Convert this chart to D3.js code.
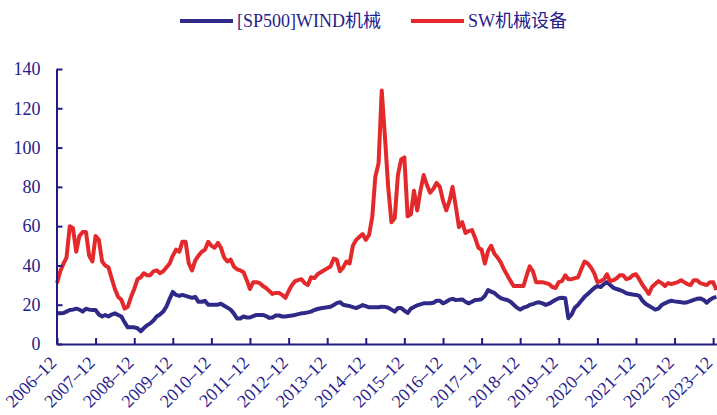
<!DOCTYPE html>
<html>
<head>
<meta charset="utf-8">
<script src="https://cdn.jsdelivr.net/npm/d3@7"></script>
<style>
  body { margin: 0; background: #fff; }
  svg { display: block; }
  text { font-family: "Liberation Serif", "Noto Sans CJK SC", serif; fill: #27208a; }
</style>
</head>
<body>
<svg id="chart" width="717" height="415"></svg>
<script>
// monthly readings, first month is 2006-12
var startMonth = "2006-12";

var seriesNames = ["[SP500]WIND机械", "SW机械设备"];
var seriesColors = ["#2f2a88", "#e3292b"];

var wind = [
  15.6,15.6,15.8,16.5,17.3,17.5,18,17.5,16.5,18,
  17.5,17.3,17.3,15,14,14.8,14,15,15.6,14.8,
  14,11,8.5,8.5,8.5,8,6.5,8,9.5,10.5,
  12,14,15,16.5,19,23,26.5,25,24.5,25,
  24.5,24,23.5,24,21.5,21.5,22,20,20,20,
  20,20.5,19.5,18.5,17.5,15.6,13,13,14,13.5,
  13.5,14.2,14.8,14.8,14.8,14.2,13.3,13.5,14.5,14.5,
  14,14,14.3,14.5,14.8,15.2,15.6,15.8,16.1,16.5,
  17.3,17.8,18.2,18.5,18.7,19,19.9,20.8,21.3,20,
  19.6,19.3,18.8,18.3,19,19.8,19.3,18.7,18.7,18.7,
  18.7,19,18.9,18.5,17.5,16.5,18.3,18.3,17,15.8,
  18,18.8,19.7,20.2,20.7,20.7,20.7,21,22,22,
  20.7,21.5,22.6,23,22.4,22.5,22.7,21.5,20.7,21.5,
  22.4,22.5,22.8,24.5,27.5,26.6,26,24.5,23.3,22.8,
  22.4,21.5,20,18.5,17.5,18.5,19,19.9,20.3,21,
  21.2,20.7,19.9,20.5,21.5,22.5,23.3,23.5,23.3,13.1,
  15,18.5,20,22,24,25.5,27,28.5,29.5,29,
  30.5,31.5,30,28.6,28,27.5,26.8,25.8,25.5,25.2,
  25,24.5,22,20.5,19.5,18.5,17.5,18,19.8,20.7,
  21.5,22,21.7,21.5,21.3,21,21.3,21.8,22.5,23,
  23.2,22.5,21,22.5,23.5,24
];

var sw = [
  31,37,41,44,60,59,47,55,57,57,
  45,42,55,53,42,40,39,33.5,28,24,
  22.5,18,19,24,28,33,34,36,35,35,
  37,37.5,36,37,39,41,45,48,47,52,
  52,41,37.5,42.5,45,47,48,52,50,49,
  51.5,49,44,42,43,39.5,38,37.5,36.5,32.5,
  28,31.5,31.5,31,29.5,28.5,27,25.5,26,26,
  25,23.5,27,30,32,32.5,33,31,30,34,
  33.5,35.5,36.5,37.5,38.5,39.5,43.5,43,37,39,
  42,41,50,53,54.5,56,53,55.5,65,85,
  92,129,105,80,62,64,86,94,95,65,
  66,78,68,78,86,81,77,79,82,80,
  73,68,73,80,70,59.5,62,56.5,57.5,58,
  54,49,48,41,47.5,50,46,44,41.5,38,
  35,32,29.5,29.5,29.5,29.5,35,39.5,37,31.5,
  31.5,31.5,31,30.5,29,28.5,31.5,32,35,33,
  33,33.5,34,38,42,41,39,36,31.5,32,
  33,35.5,32,32.5,33.5,35,35,33,33.5,35,
  35.5,33,30,28,25.5,29,30.5,32,31,29.5,
  31,30.5,31,31.5,32.5,31.5,30.5,30,32.5,32.5,
  31,30.5,30,31.5,31.5,27.5
];

var tickLabels = ["2006-12","2007-12","2008-12","2009-12","2010-12","2011-12",
  "2012-12","2013-12","2014-12","2015-12","2016-12","2017-12",
  "2018-12","2019-12","2020-12","2021-12","2022-12","2023-12"];
var yTicks = [0, 20, 40, 60, 80, 100, 120, 140];

var svg = d3.select("#chart");
var axisColor = "#231c80";

var parseMonth = d3.timeParse("%Y-%m");
var start = parseMonth(startMonth);
var dates = wind.map(function(d, i) { return d3.timeMonth.offset(start, i); });

var x = d3.scaleTime()
    .domain([start, parseMonth("2024-01")])
    .range([57, 716.4]);
var y = d3.scaleLinear()
    .domain([0, 140])
    .range([344, 69]);

// lines
var line = d3.line()
    .x(function(d, i) { return x(dates[i]); })
    .y(function(d) { return y(d); });

[wind, sw].forEach(function(s, k) {
  svg.append("path")
      .datum(s)
      .attr("d", line)
      .attr("fill", "none")
      .attr("stroke", seriesColors[k])
      .attr("stroke-width", 4)
      .attr("stroke-linejoin", "round");
});

// y axis
var yAxis = svg.append("g")
    .attr("transform", "translate(56.5,0)")
    .call(d3.axisLeft(y).tickValues(yTicks).tickSizeInner(-6).tickSizeOuter(0).tickPadding(16));
yAxis.select(".domain").attr("stroke", axisColor).attr("stroke-width", 2);
yAxis.selectAll(".tick line").attr("stroke", axisColor).attr("stroke-width", 2);
yAxis.selectAll("text")
    .style("font-size", "18px")
    .attr("fill", axisColor);

// x axis
var xAxis = svg.append("g")
    .attr("transform", "translate(0,344)")
    .call(d3.axisBottom(x)
      .tickValues(tickLabels.map(parseMonth))
      .tickFormat(d3.timeFormat("%Y\u2013%m"))
      .tickSizeInner(-6).tickSizeOuter(0));
xAxis.select(".domain").attr("stroke", axisColor).attr("stroke-width", 2);
xAxis.selectAll(".tick line").attr("stroke", axisColor).attr("stroke-width", 2);
xAxis.selectAll("text")
    .style("font-size", "18px")
    .attr("fill", axisColor)
    .attr("y", 0)
    .attr("dy", 0)
    .attr("text-anchor", "end")
    .attr("transform", "translate(0,20)rotate(-45)");

// legend
var legendX = [180, 411];
var legend = svg.append("g");
seriesNames.forEach(function(name, k) {
  legend.append("line")
      .attr("x1", legendX[k]).attr("x2", legendX[k] + 53)
      .attr("y1", 21).attr("y2", 21)
      .attr("stroke", seriesColors[k])
      .attr("stroke-width", 4);
  legend.append("text")
      .attr("x", legendX[k] + 57)
      .attr("y", 27)
      .style("font-size", "18px")
      .attr("fill", axisColor)
      .text(name);
});
</script>
</body>
</html>
